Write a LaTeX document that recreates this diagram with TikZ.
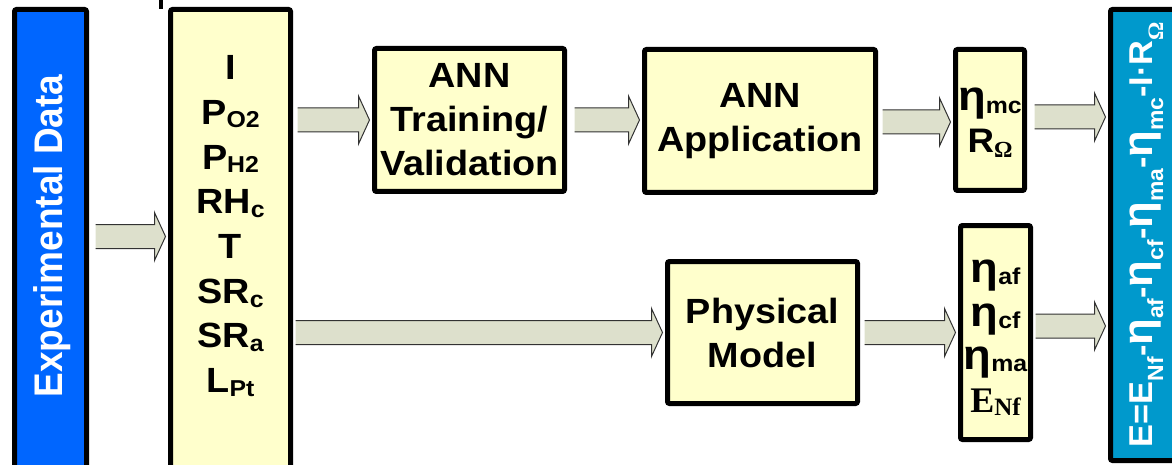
\documentclass[tikz,border=0pt]{standalone}
\usepackage{fontspec}
\usepackage{graphicx}
\setmainfont{Liberation Sans}[FakeStretch=1.08]
\newfontfamily\plainsans{Liberation Sans}
\newfontfamily\serifbf[UprightFont={Liberation Serif Bold},BoldFont={Liberation Serif Bold}]{Liberation Serif}
\usetikzlibrary{calc,backgrounds}
\definecolor{expblue}{RGB}{0,102,255}
\definecolor{resblue}{RGB}{0,153,204}
\definecolor{boxyellow}{RGB}{255,255,204}
\definecolor{arrfill}{RGB}{221,224,204}
\definecolor{arrline}{RGB}{50,50,50}
\newcommand\fs[2]{\fontsize{#1}{#2}\selectfont}
\newcommand\lo[3]{\raisebox{-#1}{\fs{#2}{#2}#3}}
\newcommand\eeta{{\fs{42}{42}η}}
\newcommand\fatarrow[4]{%
  \path let \p1=([xshift=#4,yshift=#3]#1.east), \p2=([xshift=-2.5pt]#2.west) in
    [fill=arrfill] (\x1,\y1+12pt) -- (\x2-11pt,\y1+12pt) -- (\x2-11pt,\y1+24pt) -- (\x2,\y1)
    -- (\x2-11pt,\y1-24pt) -- (\x2-11pt,\y1-12pt) -- (\x1,\y1-12pt) -- cycle;
  \path let \p1=([xshift=#4,yshift=#3]#1.east), \p2=([xshift=-2.5pt]#2.west) in
    [draw=arrline, line width=1pt, line join=miter] (\x1,\y1+12pt) -- (\x2-11pt,\y1+12pt) -- (\x2-11pt,\y1+24pt) -- (\x2,\y1)
    -- (\x2-11pt,\y1-24pt) -- (\x2-11pt,\y1-12pt) -- (\x1,\y1-12pt);
}
\tikzset{
  ybox/.style={draw=black, line width=5pt, fill=boxyellow, rounded corners=2pt,
    inner sep=0pt, align=center, font=\bfseries\fs{35}{44}},
  txt/.style={inner sep=0pt, anchor=base, font=\bfseries\fs{35}{44}},
  vtxt/.style={inner sep=0pt, anchor=base, rotate=90, text=white},
}
\begin{document}
\begin{tikzpicture}[x=1pt,y=-1pt]
\useasboundingbox (0,0) rectangle (1172,465);
% boxes
\node[ybox, fill=expblue, minimum width=72pt, minimum height=480pt] (exp) at (50.5,249.5) {};
\node[ybox, minimum width=120pt, minimum height=480pt] (inp) at (230.5,249.5) {};
\node[ybox, minimum width=190pt, minimum height=143pt] (ann1) at (469.5,120) {ANN\\Training/\\Validation};
\node[ybox, minimum width=231pt, minimum height=143pt] (ann2) at (760,121) {ANN\\Application};
\node[ybox, minimum width=69pt, minimum height=141pt] (out1) at (990,120) {};
\node[ybox, minimum width=190pt, minimum height=142pt] (phys) at (762.5,332.5) {Physical\\Model};
\node[ybox, minimum width=70pt, minimum height=214pt] (out2) at (995.5,332.5) {};
\node[ybox, fill=resblue, minimum width=89.5pt, minimum height=451pt] (res) at (1155.25,235) {};
\draw[line width=4pt] (160.5,0) -- (160.5,9);
% texts
\node[vtxt, font=\plainsans\bfseries\fs{37}{37}] (exptxt) at (62,236) {\scalebox{1}[1.08]{Experimental Data}};
\foreach \t [count=\i] in {I, {P\lo{3pt}{23}{O2}}, {P\lo{3pt}{23}{H2}}, {RH\lo{4pt}{23}{c}}, T,
  {SR\lo{4pt}{23}{c}}, {SR\lo{4pt}{23}{a}}, {L\lo{4pt}{23}{Pt}}}
  \node[txt] (in\i) at (230.5,{80+44.6*(\i-1)}) {\t};
\node[txt] (mc) at (990,111) {\eeta\lo{3pt}{23}{mc}};
\node[txt] (rom) at (990,153) {{\fs{34}{34}R}\lo{5pt}{23}{\serifbf Ω}};
\node[txt] (af) at (995.5,282) {\eeta\lo{2pt}{23}{af}};
\node[txt] (cf) at (995.5,326) {\eeta\lo{2pt}{23}{cf}};
\node[txt] (ma) at (995.5,369) {\eeta\lo{2pt}{23}{ma}};
\node[txt] (enf) at (995.5,412) {{\serifbf\fs{36}{36}E}\lo{3pt}{25}{\serifbf Nf}};
\node[vtxt, font=\plainsans\bfseries\fs{33}{33}] (restxt) at (1152,234.5)
  {\resizebox{425pt}{\height}{E=E\lo{11pt}{22}{Nf}-\eeta\lo{11pt}{22}{af}-\eeta\lo{11pt}{22}{cf}-\eeta\lo{11pt}{22}{ma}-\eeta\lo{11pt}{22}{mc}-I·R\lo{11pt}{22}{\serifbf Ω}}};
% arrows
\begin{scope}[on background layer]
\fatarrow{exp}{inp}{13pt}{6.5pt}
\fatarrow{inp}{ann1}{129.5pt}{4.5pt}
\fatarrow{ann1}{ann2}{0pt}{7.5pt}
\fatarrow{ann2}{out1}{-1pt}{4.5pt}
\fatarrow{out1}{res}{3pt}{7.5pt}
\fatarrow{inp}{phys}{-83pt}{2.5pt}
\fatarrow{phys}{out2}{0pt}{4.5pt}
\fatarrow{out2}{res}{6.5pt}{2.5pt}
\end{scope}
\end{tikzpicture}
\end{document}
